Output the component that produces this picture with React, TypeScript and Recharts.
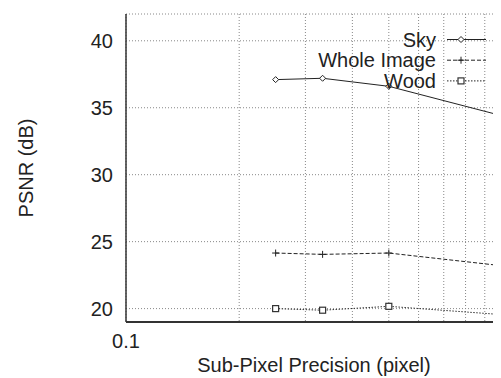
import React from 'react';
import { LineChart, Line, XAxis, YAxis, CartesianGrid, ReferenceArea, Label } from 'recharts';

const precision = [0.25, 1 / 3, 0.5, 1];
const skyPsnr = [37.1, 37.2, 36.6, 34.4];
const wholePsnr = [24.15, 24.05, 24.15, 23.2];
const woodPsnr = [20.0, 19.88, 20.17, 19.55];

const xTicks = [0.1, 0.2, 0.3, 0.4, 0.5, 0.6, 0.7, 0.8, 0.9, 1];
const xLabels = [0.1, 1];
const yTicks = [20, 25, 30, 35, 40];

const seriesNames = ['Sky', 'Whole Image', 'Wood'];

const chartData = precision.map((p, i) => ({
  p,
  sky: skyPsnr[i],
  whole: wholePsnr[i],
  wood: woodPsnr[i],
}));

const FONT = '"Liberation Sans", Arial, sans-serif';

const Diamond = (props: any) => {
  const { cx, cy } = props;
  if (cx == null || cy == null) return null;
  return <path d={`M${cx},${cy - 3}L${cx + 3},${cy}L${cx},${cy + 3}L${cx - 3},${cy}Z`} fill="#fff" stroke="#222" strokeWidth={1} />;
};

const Plus = (props: any) => {
  const { cx, cy } = props;
  if (cx == null || cy == null) return null;
  return <path d={`M${cx - 3.5},${cy}H${cx + 3.5}M${cx},${cy - 3.5}V${cy + 3.5}`} stroke="#222" strokeWidth={1} fill="none" />;
};

const Square = (props: any) => {
  const { cx, cy } = props;
  if (cx == null || cy == null) return null;
  return <rect x={cx - 3} y={cy - 3} width={6} height={6} fill="#fff" stroke="#333" strokeWidth={1.2} />;
};

const dashes = ['', '4 2', '1.5 1.5'];
const markers = [Diamond, Plus, Square];

// gnuplot-style key, drawn on top of the plot
const KeyBox = () => (
  <svg width={200} height={64} style={{ position: 'absolute', left: 302, top: 22, overflow: 'visible' }}>
    {seriesNames.map((name, i) => {
      const y = 9.5 + i * 20.7;
      const M = markers[i];
      return (
        <g key={name}>
          <text x={126} y={y} textAnchor="end" dominantBaseline="central" fontSize={20} fontFamily={FONT} fill="#222">
            {name}
          </text>
          <line x1={137} x2={176} y1={y} y2={y} stroke="#222" strokeWidth={1} strokeDasharray={dashes[i] || undefined} />
          <M cx={151} cy={y} />
        </g>
      );
    })}
  </svg>
);

export default function App() {
  return (
    <div style={{ width: 493, height: 370, overflow: 'hidden', background: '#fff', position: 'relative' }}>
      <LineChart width={512} height={370} data={chartData} margin={{ top: 6, right: 18, bottom: 0, left: 0 }}>
        <CartesianGrid stroke="#888" strokeDasharray="1 2" />
        <XAxis
          dataKey="p"
          type="number"
          scale="log"
          domain={[0.1, 1]}
          ticks={xTicks}
          interval={0}
          allowDataOverflow
          height={56}
          tickLine={false}
          tickSize={6}
          tickMargin={6}
          axisLine={{ stroke: '#333', strokeWidth: 2 }}
          tick={{ fontSize: 20, fontFamily: FONT, fill: '#222' }}
          tickFormatter={(v: number) => (xLabels.some((l) => Math.abs(l - v) < 1e-9) ? String(v) : '')}
        >
          <Label
            content={(props: any) => {
              const vb = props.viewBox;
              return (
                <text x={vb.x + vb.width / 2} y={vb.y + 50} textAnchor="middle" fontSize={20} fontFamily={FONT} fill="#222">
                  Sub-Pixel Precision (pixel)
                </text>
              );
            }}
          />
        </XAxis>
        <YAxis
          type="number"
          domain={[19, 42]}
          ticks={yTicks}
          interval={0}
          width={118}
          tickLine={false}
          tickSize={6}
          tickMargin={7}
          axisLine={{ stroke: '#333', strokeWidth: 1.5 }}
          tick={{ fontSize: 20, fontFamily: FONT, fill: '#222' }}
        >
          <Label
            content={(props: any) => {
              const vb = props.viewBox;
              const cx = vb.x + 18;
              const cy = vb.y + vb.height / 2;
              return (
                <text x={cx} y={cy} transform={`rotate(-90 ${cx} ${cy})`} textAnchor="middle" dominantBaseline="central" fontSize={20} fontFamily={FONT} fill="#222">
                  PSNR (dB)
                </text>
              );
            }}
          />
        </YAxis>
        <ReferenceArea fill="none" stroke="#333" strokeWidth={1.5} />
        <Line dataKey="sky" stroke="#222" strokeWidth={1} dot={<Diamond />} isAnimationActive={false} />
        <Line dataKey="whole" stroke="#222" strokeWidth={1} strokeDasharray="4 2" dot={<Plus />} isAnimationActive={false} />
        <Line dataKey="wood" stroke="#333" strokeWidth={1} strokeDasharray="1.5 1.5" dot={<Square />} isAnimationActive={false} />
      </LineChart>
      <KeyBox />
    </div>
  );
}
